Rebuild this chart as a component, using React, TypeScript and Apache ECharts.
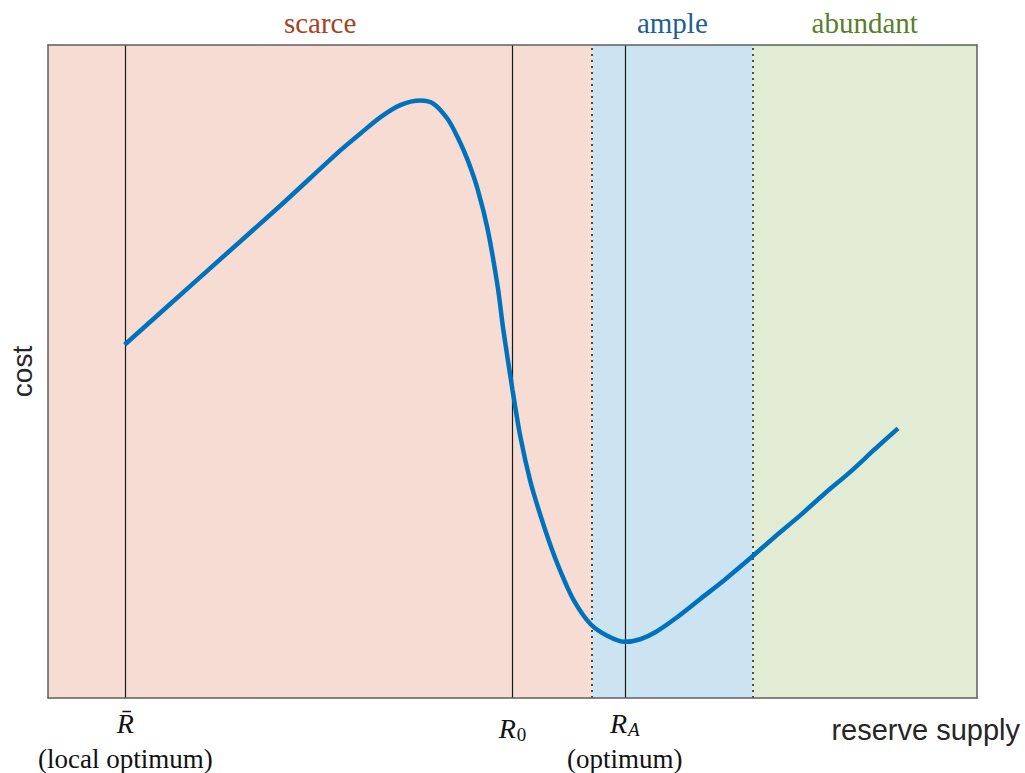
import React, { useEffect, useRef } from "react";
import * as echarts from "echarts";

// curve of cost vs reserve supply
const supply = [0.99, 1.97, 3.01, 3.78, 4.04, 4.3, 4.55, 4.81, 4.98, 5.16, 5.29, 5.42, 5.55, 5.68, 5.81, 5.88, 6.0, 6.1, 6.23, 6.36, 6.49, 6.62, 6.79, 7.01, 7.23, 7.45, 7.65, 7.85, 8.13, 8.43, 8.75, 9.07, 9.39, 9.72, 10.04, 10.36, 10.68, 10.98];
const cost = [5.41, 6.45, 7.55, 8.39, 8.65, 8.9, 9.08, 9.15, 9.1, 8.87, 8.59, 8.24, 7.79, 7.17, 6.29, 5.65, 4.72, 4.01, 3.32, 2.8, 2.34, 1.94, 1.5, 1.13, 0.95, 0.86, 0.9, 1.01, 1.24, 1.52, 1.82, 2.14, 2.47, 2.8, 3.14, 3.46, 3.81, 4.13];

// regimes
const regionNames = ["scarce", "ample", "abundant"];
const regionBounds = [0, 7.03, 9.1, 12];
const regionFill = ["#f6dcd2", "#cce3f1", "#e2ecd5"];
const regionText = ["#a3441f", "#1f5f8f", "#5a7d2b"];

// marked supply levels
const markerX = [1.0, 6.0, 7.45];
const markerLabels = [
  "{it|R\u0304}\n{par|(local optimum)}",
  "{it|R}{sub|0}",
  "{it|R}{subi|A}\n{par|(optimum)}",
];
const dottedX = [7.03, 9.1];

const X_MIN = 0;
const X_MAX = 12;
const Y_MIN = 0;
const Y_MAX = 10;

const SERIF = "'Liberation Serif', 'Times New Roman', serif";
const SANS = "'Liberation Sans', Arial, Helvetica, sans-serif";

export default function App() {
  const ref = useRef<HTMLDivElement>(null);

  useEffect(() => {
    if (!ref.current) return;
    const chart = echarts.init(ref.current, undefined, { renderer: "svg" });

    const frameLine = { show: true, onZero: false, lineStyle: { color: "#5e5e5e", width: 1.5 } };
    const hidden = {
      axisTick: { show: false },
      axisLabel: { show: false },
      splitLine: { show: false },
    };

    const rich = {
      it: { fontFamily: SERIF, fontStyle: "italic", fontSize: 28, color: "#111", lineHeight: 46 },
      sub: { fontFamily: SERIF, fontSize: 19, color: "#111", padding: [12, 0, 0, 1] },
      subi: { fontFamily: SERIF, fontStyle: "italic", fontSize: 19, color: "#111", padding: [12, 0, 0, 1] },
      par: { fontFamily: SERIF, fontSize: 27, color: "#111", lineHeight: 26 },
    };

    const areaData = regionNames.map((name, i) => [
      {
        name,
        xAxis: regionBounds[i],
        itemStyle: { color: regionFill[i], opacity: 1 },
        label: { color: regionText[i] },
      },
      { xAxis: regionBounds[i + 1] },
    ]);

    const lineData: any[] = markerX.map((x, i) => ({
      xAxis: x,
      lineStyle: { type: "solid", color: "#1a1a1a", width: 1.2 },
      label: {
        show: true,
        position: "start",
        distance: i === 1 ? 7 : 2,
        formatter: markerLabels[i],
        rich,
        align: "center",
      },
    }));
    dottedX.forEach((x) => {
      lineData.push({
        xAxis: x,
        lineStyle: { type: [2, 4], color: "#1a1a1a", width: 1.5 },
        label: { show: false },
      });
    });

    chart.setOption({
      animation: false,
      backgroundColor: "#ffffff",
      grid: { left: 47, right: 48, top: 45, bottom: 75 },
      xAxis: [
        { type: "value", min: X_MIN, max: X_MAX, position: "bottom", axisLine: frameLine, z: 6, ...hidden },
        { type: "value", min: X_MIN, max: X_MAX, position: "top", axisLine: frameLine, z: 6, ...hidden },
      ],
      yAxis: [
        {
          type: "value",
          min: Y_MIN,
          max: Y_MAX,
          position: "left",
          axisLine: frameLine,
          z: 6,
          ...hidden,
          name: "cost",
          nameLocation: "middle",
          nameRotate: 90,
          nameGap: 12,
          nameTextStyle: { fontFamily: SANS, fontSize: 28, color: "#262626" },
        },
        { type: "value", min: Y_MIN, max: Y_MAX, position: "right", axisLine: frameLine, z: 6, ...hidden },
      ],
      graphic: [
        {
          type: "text",
          right: 5,
          top: 715,
          style: { text: "reserve supply", fontFamily: SANS, fontSize: 29, fill: "#262626" },
        },
      ],
      series: [
        {
          type: "line",
          z: 10,
          xAxisIndex: 0,
          yAxisIndex: 0,
          data: supply.map((x, i) => [x, cost[i]]),
          smooth: 0.3,
          showSymbol: false,
          symbol: "none",
          lineStyle: { color: "#0072bd", width: 4.5, cap: "butt" },
          markArea: {
            silent: true,
            z: 1,
            label: {
              show: true,
              position: "top",
              distance: 8,
              fontFamily: SERIF,
              fontSize: 29,
            },
            data: areaData,
          },
          markLine: {
            silent: true,
            z: 5,
            symbol: ["none", "none"],
            data: lineData,
          },
        },
      ],
    });

    return () => chart.dispose();
  }, []);

  return (
    <div
      ref={ref}
      style={{ position: "fixed", left: 0, top: 0, width: 1025, height: 773 }}
    />
  );
}
